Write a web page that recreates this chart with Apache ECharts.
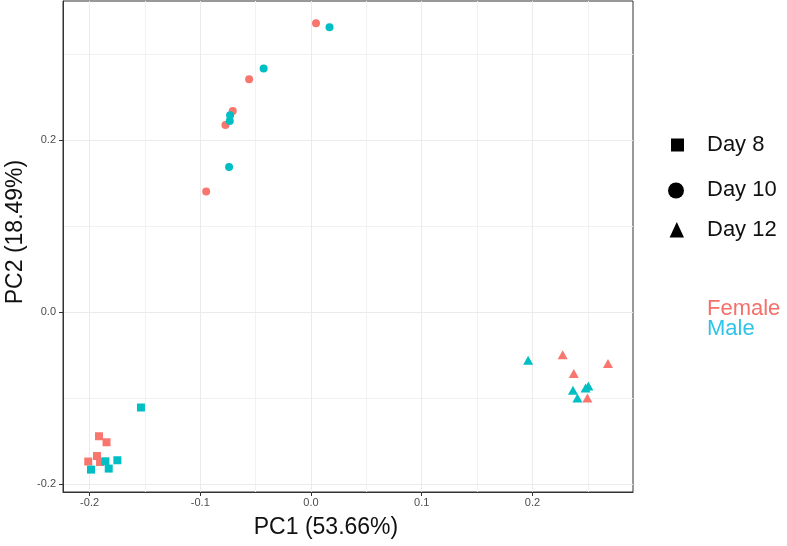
<!DOCTYPE html>
<html><head><meta charset="utf-8">
<script src="https://cdn.jsdelivr.net/npm/echarts@6/dist/echarts.min.js"></script>
<style>html,body{margin:0;padding:0;background:#fff}#c{width:787px;height:546px}</style>
</head><body><div id="c"></div>
<script>
// ---- data ----
const day8FemaleX  = [-0.1915, -0.1847, -0.1933, -0.2012, -0.1905];
const day8FemaleY  = [-0.1442, -0.1512, -0.1672, -0.1736, -0.1742];
const day8MaleX    = [-0.1536, -0.1857, -0.1749, -0.1987, -0.1827];
const day8MaleY    = [-0.1108, -0.1733, -0.1721, -0.1830, -0.1818];
const day10FemaleX = [0.0045, -0.0559, -0.0707, -0.0773, -0.0947];
const day10FemaleY = [0.3357, 0.2706, 0.2337, 0.2174, 0.1403];
const day10MaleX   = [0.0167, -0.0428, -0.0731, -0.0734, -0.0740];
const day10MaleY   = [0.3310, 0.2833, 0.2287, 0.2221, 0.1686];
const day12FemaleX = [0.2273, 0.2682, 0.2373, 0.2496];
const day12FemaleY = [-0.0496, -0.0597, -0.0713, -0.0997];
const day12MaleX   = [0.1961, 0.2366, 0.2480, 0.2505, 0.2406];
const day12MaleY   = [-0.0558, -0.0907, -0.0880, -0.0858, -0.0997];

const xTicks = [-0.2, -0.1, 0.0, 0.1, 0.2];
const xMinorTicks = [-0.15, -0.05, 0.05, 0.15, 0.25];
const yTicks = [-0.2, 0.0, 0.2];
const yMinorTicks = [-0.1, 0.1, 0.3];
const shapeLegend = ['Day 8', 'Day 10', 'Day 12'];
const sexLegend = ['Female', 'Male'];
const xTitle = 'PC1 (53.66%)';
const yTitle = 'PC2 (18.49%)';

const X_MIN = -0.224, X_MAX = 0.2908, Y_MIN = -0.209, Y_MAX = 0.3616;
const FEMALE = '#F8766D', MALE = '#00BFC4';
const FONT = '"Liberation Sans", Arial, sans-serif';

function pts(xs, ys) { return xs.map((x, i) => [x, ys[i]]); }
function sc(name, xs, ys, symbol, size, color) {
  return { type: 'scatter', name, data: pts(xs, ys), symbol, symbolSize: size,
    itemStyle: { color, opacity: 1 }, emphasis: { disabled: true }, silent: true };
}

const chart = echarts.init(document.getElementById('c'), null, { renderer: 'canvas' });
chart.setOption({
  animation: false,
  backgroundColor: '#fff',
  grid: { left: 63, right: 154, top: 1, bottom: 54, show: true, borderColor: '#333', borderWidth: 1, backgroundColor: 'transparent' },
  xAxis: [
    {
      type: 'value', min: X_MIN, max: X_MAX, position: 'bottom',
      axisLine: { show: true, onZero: false, lineStyle: { color: '#333', width: 1 } },
      axisTick: { show: true, length: 4, lineStyle: { color: '#333', width: 1 }, customValues: xTicks },
      axisLabel: { customValues: xTicks, formatter: v => v.toFixed(1), color: '#4D4D4D', fontSize: 11, fontFamily: FONT, margin: 5 },
      splitLine: { show: true, lineStyle: { color: '#EBEBEB', width: 1 } }, z: 1
    },
    {
      type: 'value', min: X_MIN, max: X_MAX, position: 'top',
      axisLine: { show: false, onZero: false },
      axisTick: { show: false, customValues: xMinorTicks },
      axisLabel: { show: false, customValues: xMinorTicks },
      splitLine: { show: true, lineStyle: { color: '#F2F2F2', width: 1 } }, z: 0
    }
  ],
  yAxis: [
    {
      type: 'value', min: Y_MIN, max: Y_MAX, position: 'left',
      axisLine: { show: true, onZero: false, lineStyle: { color: '#333', width: 1 } },
      axisTick: { show: true, length: 4, lineStyle: { color: '#333', width: 1 }, customValues: yTicks },
      axisLabel: { customValues: yTicks, formatter: v => v.toFixed(1), color: '#4D4D4D', fontSize: 11, fontFamily: FONT, margin: 7 },
      splitLine: { show: true, lineStyle: { color: '#EBEBEB', width: 1 } }, z: 1
    },
    {
      type: 'value', min: Y_MIN, max: Y_MAX, position: 'right',
      axisLine: { show: false, onZero: false },
      axisTick: { show: false, customValues: yMinorTicks },
      axisLabel: { show: false, customValues: yMinorTicks },
      splitLine: { show: true, lineStyle: { color: '#F2F2F2', width: 1 } }, z: 0
    }
  ],
  series: [
    sc('Day 8 Female', day8FemaleX, day8FemaleY, 'rect', 8, FEMALE),
    sc('Day 10 Female', day10FemaleX, day10FemaleY, 'circle', 8, FEMALE),
    sc('Day 12 Female', day12FemaleX, day12FemaleY, 'triangle', [10, 9], FEMALE),
    sc('Day 8 Male', day8MaleX, day8MaleY, 'rect', 8, MALE),
    sc('Day 10 Male', day10MaleX, day10MaleY, 'circle', 8, MALE),
    sc('Day 12 Male', day12MaleX, day12MaleY, 'triangle', [10, 9], MALE)
  ],
  graphic: [
    { type: 'text', x: 326, y: 528, silent: true,
      style: { text: xTitle, fill: '#111', font: '23px ' + FONT, align: 'center', verticalAlign: 'middle' } },
    { type: 'text', x: 16, y: 232, rotation: Math.PI / 2, silent: true,
      style: { text: yTitle, fill: '#111', font: '23px ' + FONT, align: 'center', verticalAlign: 'middle' } },
    { type: 'rect', shape: { x: 671, y: 138.5, width: 13, height: 13 }, style: { fill: '#000' } },
    { type: 'circle', shape: { cx: 676, cy: 190.5, r: 8 }, style: { fill: '#000' } },
    { type: 'polygon', shape: { points: [[676.8, 222], [684, 237.5], [669.6, 237.5]] }, style: { fill: '#000' } },
    { type: 'text', x: 707, y: 145, style: { text: shapeLegend[0], fill: '#111', font: '22px ' + FONT, align: 'left', verticalAlign: 'middle' } },
    { type: 'text', x: 707, y: 190, style: { text: shapeLegend[1], fill: '#111', font: '22px ' + FONT, align: 'left', verticalAlign: 'middle' } },
    { type: 'text', x: 707, y: 230, style: { text: shapeLegend[2], fill: '#111', font: '22px ' + FONT, align: 'left', verticalAlign: 'middle' } },
    { type: 'text', x: 707, y: 309, style: { text: sexLegend[0], fill: '#F4706A', font: '22px ' + FONT, align: 'left', verticalAlign: 'middle' } },
    { type: 'text', x: 707, y: 329, style: { text: sexLegend[1], fill: '#2EC4EA', font: '22px ' + FONT, align: 'left', verticalAlign: 'middle' } }
  ]
});
</script></body></html>
